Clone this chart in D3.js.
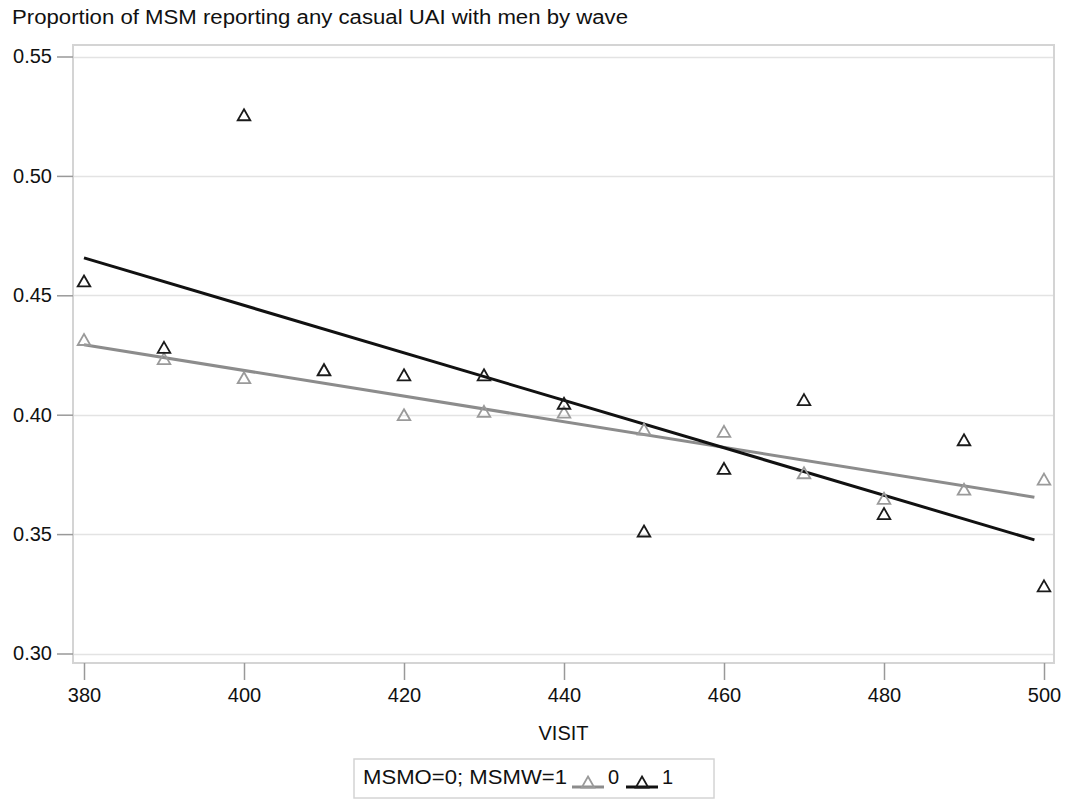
<!DOCTYPE html>
<html>
<head>
<meta charset="utf-8">
<script src="https://cdn.jsdelivr.net/npm/d3@7"></script>
<style>
  html, body { margin: 0; padding: 0; background: #fff; }
  svg { display: block; font-family: Arial, "Liberation Sans", Helvetica, sans-serif; }
</style>
</head>
<body>
<svg id="chart" width="1065" height="801"></svg>
<script>
// ---- data ----
const visits = [380, 390, 400, 410, 420, 430, 440, 450, 460, 470, 480, 490, 500];
const group0 = [0.4315, 0.4235, 0.4155, 0.4190, 0.4000, 0.4014, 0.4011, 0.3940, 0.3930, 0.3757, 0.3650, 0.3688, 0.3730];
const group1 = [0.4560, 0.4282, 0.5256, 0.4188, 0.4167, 0.4167, 0.4048, 0.3513, 0.3775, 0.4063, 0.3586, 0.3895, 0.3283];
const groupNames = ["0", "1"];
const xTicks = [380, 400, 420, 440, 460, 480, 500];
const yTicks = [0.30, 0.35, 0.40, 0.45, 0.50, 0.55];
const fitRange = [380, 498.8];
const titleText = "Proportion of MSM reporting any casual UAI with men by wave";
const xLabel = "VISIT";
const legendTitle = "MSMO=0; MSMW=1";

// ---- layout ----
const frame = { left: 73, right: 1054, top: 45, bottom: 663 };
const svg = d3.select("#chart");

const x = d3.scaleLinear().domain([380, 500]).range([84, 1044]);
const y = d3.scaleLinear().domain([0.30, 0.55]).range([653.5, 56.5]);

const colors = { "0": "#8c8c8c", "1": "#111111" };
const markColors = { "0": "#9a9a9a", "1": "#1a1a1a" };

// title
svg.append("text")
  .attr("x", 12).attr("y", 24)
  .attr("font-size", 20).attr("fill", "#111")
  .attr("textLength", 616).attr("lengthAdjust", "spacingAndGlyphs")
  .text(titleText);

// gridlines
svg.append("g").selectAll("line").data(yTicks).join("line")
  .attr("x1", frame.left).attr("x2", frame.right)
  .attr("y1", d => Math.round(y(d)) + 0.5).attr("y2", d => Math.round(y(d)) + 0.5)
  .attr("stroke", "#e3e3e3").attr("stroke-width", 1.5);

// frame
svg.append("rect")
  .attr("x", frame.left).attr("y", frame.top)
  .attr("width", frame.right - frame.left).attr("height", frame.bottom - frame.top)
  .attr("fill", "none").attr("stroke", "#d4d4d4").attr("stroke-width", 2);

// y axis
const yAxis = d3.axisLeft(y).tickValues(yTicks).tickFormat(d3.format(".2f")).tickSize(16).tickPadding(5);
const yg = svg.append("g").attr("transform", `translate(${frame.left},0)`).call(yAxis);
yg.select(".domain").remove();
yg.selectAll(".tick line").attr("stroke", "#999").attr("stroke-width", 1.5);
yg.selectAll(".tick text").attr("font-size", 20).attr("fill", "#111").attr("font-family", "Arial, 'Liberation Sans', sans-serif");

// x axis
const xAxis = d3.axisBottom(x).tickValues(xTicks).tickFormat(d3.format("d")).tickSize(17).tickPadding(8);
const xg = svg.append("g").attr("transform", `translate(0,${frame.bottom})`).call(xAxis);
xg.select(".domain").remove();
xg.selectAll(".tick line").attr("stroke", "#999").attr("stroke-width", 1.5);
xg.selectAll(".tick text").attr("font-size", 20).attr("fill", "#111").attr("font-family", "Arial, 'Liberation Sans', sans-serif");

// x label
svg.append("text")
  .attr("x", (frame.left + frame.right) / 2).attr("y", 740)
  .attr("text-anchor", "middle").attr("font-size", 20).attr("fill", "#111")
  .text(xLabel);

// regression fits
function fit(xs, ys) {
  const mx = d3.mean(xs), my = d3.mean(ys);
  const sxy = d3.sum(xs, (v, i) => (v - mx) * (ys[i] - my));
  const sxx = d3.sum(xs, v => (v - mx) * (v - mx));
  const b = sxy / sxx;
  return v => my + b * (v - mx);
}
const series = [
  { name: "0", values: group0 },
  { name: "1", values: group1 }
];

const tri = "M0,-5.5L6.3,5.5L-6.3,5.5Z";

series.forEach(s => {
  const f = fit(visits, s.values);
  svg.append("path")
    .datum(fitRange)
    .attr("d", d3.line().x(d => x(d)).y(d => y(f(d))))
    .attr("fill", "none")
    .attr("stroke", colors[s.name])
    .attr("stroke-width", 3);
});

series.forEach(s => {
  svg.append("g").selectAll("path")
    .data(visits.map((v, i) => [v, s.values[i]]))
    .join("path")
    .attr("transform", d => `translate(${x(d[0])},${y(d[1])})`)
    .attr("d", tri)
    .attr("fill", "none")
    .attr("stroke", markColors[s.name])
    .attr("stroke-width", 1.8);
});

// legend
const lg = svg.append("g");
lg.append("rect")
  .attr("x", 354).attr("y", 759).attr("width", 360).attr("height", 39)
  .attr("fill", "#fff").attr("stroke", "#d4d4d4").attr("stroke-width", 1.5);
lg.append("text")
  .attr("x", 363).attr("y", 784).attr("font-size", 20).attr("fill", "#111")
  .attr("textLength", 204).attr("lengthAdjust", "spacingAndGlyphs")
  .text(legendTitle);
const legendItems = [
  { name: groupNames[0], x0: 572 },
  { name: groupNames[1], x0: 626 }
];
legendItems.forEach(it => {
  lg.append("line")
    .attr("x1", it.x0).attr("x2", it.x0 + 32)
    .attr("y1", 787).attr("y2", 787)
    .attr("stroke", colors[it.name]).attr("stroke-width", 3);
  lg.append("path")
    .attr("transform", `translate(${it.x0 + 16},${782})`)
    .attr("d", tri)
    .attr("fill", "none").attr("stroke", markColors[it.name]).attr("stroke-width", 1.8);
  lg.append("text")
    .attr("x", it.x0 + 36).attr("y", 784).attr("font-size", 20).attr("fill", "#111")
    .text(it.name);
});
</script>
</body>
</html>
